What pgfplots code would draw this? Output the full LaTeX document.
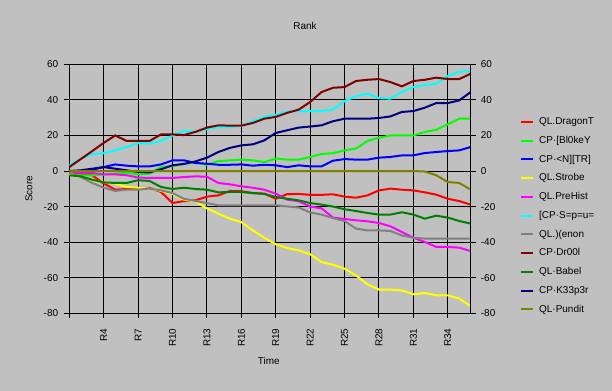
\documentclass[border=0pt]{standalone}
\usepackage{pgfplots}
\pgfplotsset{compat=1.18}
\usepackage{pgfplotstable}
\usepackage{fontspec}
\setmainfont{Liberation Sans}
\definecolor{bg}{HTML}{C0C0C0}
\definecolor{cRed}{HTML}{FF0000}
\definecolor{cLime}{HTML}{00FF00}
\definecolor{cBlue}{HTML}{0000FF}
\definecolor{cYellow}{HTML}{FFFF00}
\definecolor{cMagenta}{HTML}{FF00FF}
\definecolor{cCyan}{HTML}{00FFFF}
\definecolor{cMaroon}{HTML}{800000}
\definecolor{cGreen}{HTML}{008000}
\definecolor{cNavy}{HTML}{000080}
\definecolor{cOlive}{HTML}{808000}
\definecolor{cGray}{HTML}{808080}

\pgfplotstableread{
r  dragon blokey ntr   strobe prehist spu  xenon drool babel keeper pundit
1  -1.5   -2.0   0.0   -1.9   -0.6   3.2   -0.6  2.2   -2.4  0.0    0
2  -1.7   -2.4   0.0   -3.4   -1.1   7.0   -3.4  6.7   -3.0  0.4    0
3  -2.4   -2.4   0.7   -5.4   -1.1   9.4   -6.7  11.2  -4.9  1.3    0
4  -7.0   -2.0   2.2   -6.2   -1.9   10.0  -9.4  15.8  -6.4  2.2    0
5  -10.5  -1.5   3.7   -7.1   -1.9   11.6  -11.2 20.0  -6.7  1.3    0
6  -10.1  -1.0   3.0   -9.0   -2.4   13.5  -10.5 16.9  -6.7  0.4    0
7  -9.9   -1.9   2.6   -9.4   -3.7   15.7  -10.5 16.9  -5.2  -0.5   0
8  -9.5   -1.5   2.6   -9.9   -3.9   15.4  -9.9  16.9  -5.6  -0.8   0
9  -11.8  2.2    3.7   -11.2  -3.9   16.9  -10.9 20.6  -9.0  1.0    0
10 -18.0  2.8    6.0   -12.9  -3.9   20.0  -12.4 20.6  -10.1 3.2    0
11 -16.9  4.0    6.0   -16.1  -3.4   22.5  -15.6 20.2  -9.4  4.0    0
12 -16.5  4.9    4.5   -17.2  -3.0   22.0  -16.9 22.0  -10.1 5.4    0
13 -14.4  3.5    4.1   -21.0  -3.2   23.6  -18.0 24.4  -10.5 7.5    0
14 -13.7  5.6    3.5   -24.0  -6.7   24.7  -19.3 25.7  -12.0 10.7   0
15 -11.2  6.0    3.5   -26.8  -7.5   24.7  -19.3 25.5  -11.8 13.0   0
16 -11.4  6.4    3.7   -28.7  -8.6   25.5  -19.3 25.5  -11.8 14.4   0
17 -12.4  6.0    3.0   -33.4  -9.4   28.0  -19.3 27.0  -12.4 15.0   0
18 -12.7  5.0    3.5   -37.5  -10.5  30.4  -19.3 29.4  -12.9 17.2   0
19 -15.6  7.0    3.2   -41.2  -12.7  31.7  -19.3 30.4  -14.6 21.4   0
20 -13.0  6.4    2.2   -43.3  -16.1  33.3  -19.9 32.7  -15.6 22.9   0
21 -12.9  6.4    3.2   -44.6  -17.0  33.7  -20.5 34.5  -16.5 24.4   0
22 -13.4  7.9    2.6   -46.8  -20.0  33.7  -23.3 38.8  -18.0 25.0   0
23 -13.4  9.6    2.6   -51.2  -21.0  33.7  -24.5 44.4  -18.9 25.7   0
24 -13.1  10.0   5.8   -52.7  -26.2  34.5  -26.5 46.8  -20.0 28.0   0
25 -14.4  11.6   6.7   -54.9  -27.0  39.3  -28.1 47.2  -21.5 29.4   0
26 -15.0  12.6   6.4   -58.7  -27.7  42.0  -32.4 50.6  -22.5 29.4   0
27 -13.7  16.9   6.4   -63.7  -28.3  43.5  -33.4 51.3  -23.6 29.4   0
28 -10.9  18.7   7.5   -66.7  -29.2  41.0  -33.4 51.7  -24.5 29.8   0
29 -9.9   20.0   7.9   -66.7  -31.1  40.7  -33.7 50.0  -24.5 30.7   0
30 -10.5  20.0   8.8   -67.1  -34.3  44.4  -36.2 47.6  -23.2 33.2   0
31 -10.9  20.0   8.8   -69.3  -37.5  47.2  -37.5 50.6  -24.5 33.7   0
32 -12.0  21.9   10.1  -68.6  -39.9  48.5  -38.0 51.3  -26.8 35.6   -0.3
33 -13.3  23.2   10.7  -69.9  -42.7  49.0  -38.0 52.5  -25.1 38.2   -2.4
34 -15.6  26.2   11.2  -69.9  -42.7  53.4  -38.0 51.7  -26.2 38.2   -6.2
35 -16.9  29.4   11.6  -71.7  -43.1  55.8  -38.0 51.7  -28.1 39.7   -6.7
36 -18.9  29.4   13.5  -76.0  -45.0  56.2  -38.0 54.7  -29.6 44.4   -10.5
}\ranktable

\begin{document}
\begin{tikzpicture}[font=\fontsize{10}{12}\selectfont]
\useasboundingbox[fill=bg] (0,0) rectangle (612bp,391bp);
\begin{axis}[
  at={(69.3bp,77.7bp)}, anchor=south west,
  width=401.4bp, height=249bp, scale only axis,
  xmin=1, xmax=36, ymin=-80, ymax=60,
  xtick={1,4,...,34},
  xticklabels={,R4,R7,R10,R13,R16,R19,R22,R25,R28,R31,R34},
  ytick={-80,-60,...,60},
  xmajorgrids, ymajorgrids,
  grid style={black, line width=1bp},
  axis line style={black, line width=1bp},
  tick style={black, line width=1bp},
  major tick length=5bp, tick align=outside,
  xtick pos=left, ytick pos=left,
  /pgf/number format/assume math mode=true,
  xticklabel style={rotate=90, anchor=east, inner sep=0pt, xshift=-10bp},
  yticklabel style={inner sep=0pt, xshift=-6bp},
  title=Rank, xlabel=Time, ylabel=Score,
  every axis title/.style={at={(axis description cs:0.5872,1.1538)}, anchor=center, inner sep=0pt},
  xlabel style={at={(axis description cs:0.497,-0.1916)}, anchor=center, inner sep=0pt},
  ylabel style={at={(axis description cs:-0.1004,0.5)}, anchor=center, inner sep=0pt},
  every axis plot/.append style={line width=2bp},
  legend style={at={(1.1228,0.3918)}, anchor=west, draw=none, fill=none,
    inner sep=0pt, row sep=9.25bp, column sep=5bp,
    nodes={inner sep=0pt, text height=7.5bp, text depth=2bp}},
  legend cell align=left,
  legend image code/.code={\draw[#1] (0bp,0bp) -- (12bp,0bp);},
]
\addplot[cRed, no markers] table[x=r, y=dragon] {\ranktable};
\addlegendentry{QL.DragonT}
\addplot[cLime, no markers] table[x=r, y=blokey] {\ranktable};
\addlegendentry{CP·[Bl0keY}
\addplot[cBlue, no markers] table[x=r, y=ntr] {\ranktable};
\addlegendentry{CP·<N][TR]}
\addplot[cYellow, no markers] table[x=r, y=strobe] {\ranktable};
\addlegendentry{QL.Strobe}
\addplot[cMagenta, no markers] table[x=r, y=prehist] {\ranktable};
\addlegendentry{QL.PreHist}
\addplot[cCyan, no markers] table[x=r, y=spu] {\ranktable};
\addlegendentry{[CP·S=p=u=}
\addplot[cGray, no markers] table[x=r, y=xenon] {\ranktable};
\addlegendentry{QL.)(enon}
\addplot[cMaroon, no markers] table[x=r, y=drool] {\ranktable};
\addlegendentry{CP·Dr00l}
\addplot[cGreen, no markers] table[x=r, y=babel] {\ranktable};
\addlegendentry{QL·Babel}
\addplot[cNavy, no markers] table[x=r, y=keeper] {\ranktable};
\addlegendentry{CP·K33p3r}
\addplot[cOlive, no markers] table[x=r, y=pundit] {\ranktable};
\addlegendentry{QL·Pundit}
\end{axis}
\begin{axis}[
  at={(69.3bp,77.7bp)}, anchor=south west,
  width=401.4bp, height=249bp, scale only axis,
  xmin=1, xmax=36, ymin=-80, ymax=60,
  axis x line=none, axis y line*=right,
  ytick={-80,-60,...,60},
  axis line style={black, line width=1bp},
  tick style={black, line width=1bp},
  major tick length=5bp, tick align=outside,
  /pgf/number format/assume math mode=true,
  yticklabel style={inner sep=0pt, xshift=5bp},
]
\end{axis}
\end{tikzpicture}
\end{document}
